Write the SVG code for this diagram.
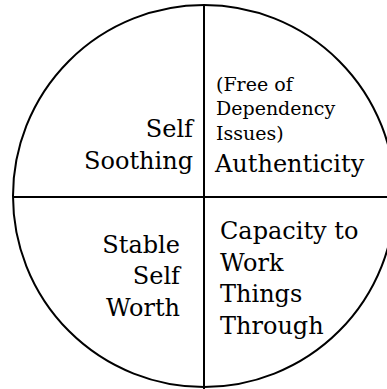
<svg xmlns="http://www.w3.org/2000/svg" width="387" height="389" viewBox="0 0 387 389">
<style>
.ln{fill:none;stroke:#000;stroke-width:2}
.t{font-family:"DejaVu Serif","Liberation Serif",serif;font-size:24px;fill:#000}
.s{font-family:"DejaVu Serif","Liberation Serif",serif;font-size:19px;fill:#000}
.e{text-anchor:end}
</style>
<rect width="387" height="389" fill="#fff"/>
<g id="frame">
<circle class="ln" cx="204" cy="196" r="191"/>
<line class="ln" x1="204" y1="5" x2="204" y2="389"/>
<line class="ln" x1="13" y1="197" x2="387" y2="197"/>
</g>
<g id="self-soothing">
<text class="t e" x="193" y="137">Self</text>
<text class="t e" x="193" y="168.5">Soothing</text>
</g>
<g id="authenticity">
<text class="s" x="216" y="91">(Free of</text>
<text class="s" x="216" y="115">Dependency</text>
<text class="s" x="216" y="140">Issues)</text>
<text class="t" x="215" y="172">Authenticity</text>
</g>
<g id="stable-self-worth">
<text class="t e" x="180" y="252.5">Stable</text>
<text class="t e" x="180" y="284">Self</text>
<text class="t e" x="180" y="315.5">Worth</text>
</g>
<g id="capacity">
<text class="t" x="220" y="239">Capacity to</text>
<text class="t" x="220" y="270.5">Work</text>
<text class="t" x="220" y="302">Things</text>
<text class="t" x="220" y="333.5">Through</text>
</g>
</svg>
